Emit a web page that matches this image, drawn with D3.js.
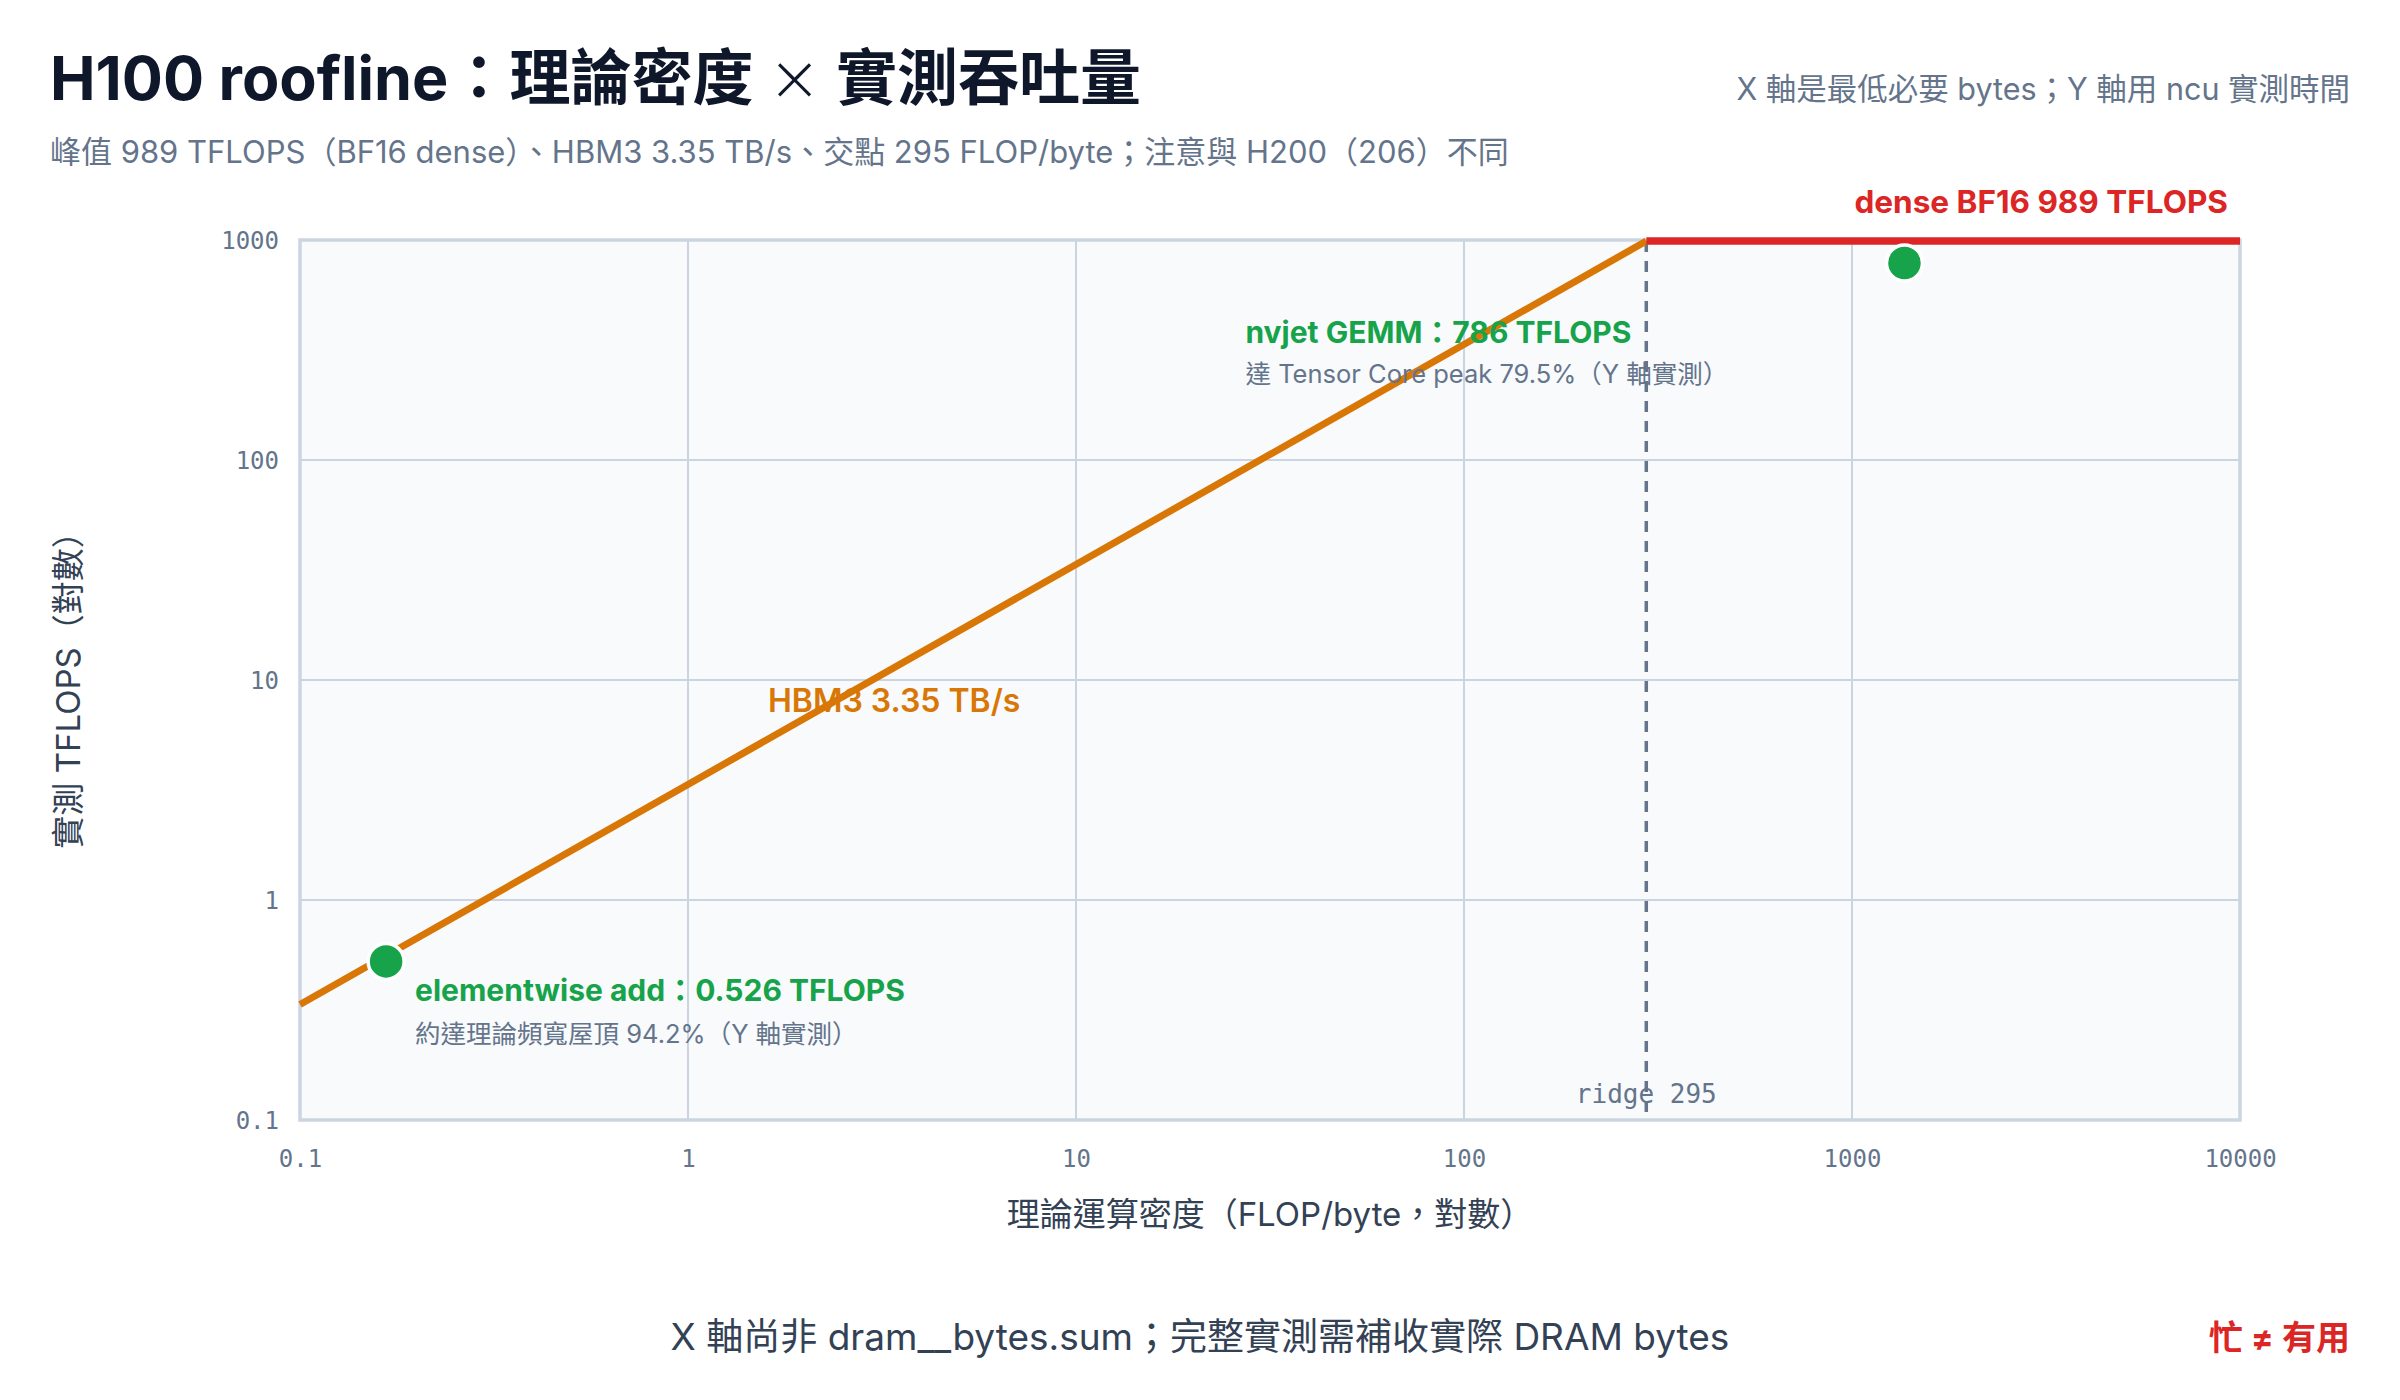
<!DOCTYPE html>
<html>
<head>
<meta charset="utf-8">
<script src="https://cdn.jsdelivr.net/npm/d3@7/dist/d3.min.js"></script>
<style>
  html, body { margin: 0; padding: 0; background: #ffffff; }
  svg { display: block; }
  .sans { font-family: Inter, "Noto Sans CJK TC", "Noto Sans", sans-serif; }
  .mono { font-family: "DejaVu Sans Mono", "Liberation Mono", monospace; }
</style>
</head>
<body>
<svg id="chart" width="2400" height="1400"></svg>
<script>
// ---- data ----
const xTickValues = [0.1, 1, 10, 100, 1000, 10000];
const yTickValues = [0.1, 1, 10, 100, 1000];
const xTickLabels = ["0.1", "1", "10", "100", "1000", "10000"];
const yTickLabels = ["0.1", "1", "10", "100", "1000"];
const peakTFLOPS = 989;
const bandwidthTBs = 3.35;
const ridgeIntensity = 295;
// roofline vertices (FLOP/byte, TFLOPS)
const roofBandwidthX = [0.1, 295.2];
const roofBandwidthY = [0.335, 989];
const roofComputeX = [295.2, 10000];
const roofComputeY = [989, 989];
// measured kernels
const kernelNames = ["elementwise add", "nvjet GEMM"];
const kernelIntensity = [0.1667, 1365.3];
const kernelTFLOPS = [0.526, 786];
const kernelLabels = ["elementwise add：0.526 TFLOPS", "nvjet GEMM：786 TFLOPS"];
const kernelNotes = ["約達理論頻寬屋頂 94.2%（Y 軸實測）", "達 Tensor Core peak 79.5%（Y 軸實測）"];

// ---- layout ----
const W = 2400, H = 1400;
const plot = { left: 300, right: 2240, top: 240, bottom: 1120 };
const svg = d3.select("#chart");

const x = d3.scaleLog().domain([0.1, 10000]).range([plot.left, plot.right]);
const y = d3.scaleLog().domain([0.1, 1000]).range([plot.bottom, plot.top]);

const C = {
  title: "#0f172a", text: "#334155", muted: "#64748b",
  grid: "#cbd5e1", bg: "#f8fafc",
  orange: "#d97706", red: "#dc2626", green: "#16a34a"
};

// plot background
svg.append("rect")
  .attr("x", plot.left).attr("y", plot.top)
  .attr("width", plot.right - plot.left).attr("height", plot.bottom - plot.top)
  .attr("fill", C.bg);

// grid
const g = svg.append("g");
g.selectAll(".vg").data(xTickValues).join("line")
  .attr("x1", d => x(d)).attr("x2", d => x(d))
  .attr("y1", plot.top).attr("y2", plot.bottom)
  .attr("stroke", C.grid).attr("stroke-width", 2);
g.selectAll(".hg").data(yTickValues).join("line")
  .attr("x1", plot.left).attr("x2", plot.right)
  .attr("y1", d => y(d)).attr("y2", d => y(d))
  .attr("stroke", C.grid).attr("stroke-width", 2);

// frame
svg.append("rect")
  .attr("x", plot.left).attr("y", plot.top)
  .attr("width", plot.right - plot.left).attr("height", plot.bottom - plot.top)
  .attr("fill", "none").attr("stroke", C.grid).attr("stroke-width", 3.5);

// axes (tick labels via d3 axes)
const xAxis = d3.axisBottom(x).tickValues(xTickValues)
  .tickFormat((d, i) => xTickLabels[i]).tickSize(0).tickPadding(0);
const xa = svg.append("g").attr("transform", `translate(0,${plot.bottom})`).call(xAxis);
xa.select(".domain").remove();
xa.selectAll("text").attr("class", "mono").attr("font-size", 24).attr("fill", C.muted)
  .attr("dy", null).attr("y", 47);

const yAxis = d3.axisLeft(y).tickValues(yTickValues)
  .tickFormat((d, i) => yTickLabels[i]).tickSize(0).tickPadding(0);
const ya = svg.append("g").attr("transform", `translate(${plot.left},0)`).call(yAxis);
ya.select(".domain").remove();
ya.selectAll("text").attr("class", "mono").attr("font-size", 24).attr("fill", C.muted)
  .attr("x", -21).attr("dy", "0.35em");

// ridge line
svg.append("line")
  .attr("x1", x(ridgeIntensity)).attr("x2", x(ridgeIntensity))
  .attr("y1", y(peakTFLOPS)).attr("y2", plot.bottom - 3)
  .attr("stroke", C.muted).attr("stroke-width", 3.5)
  .attr("stroke-dasharray", "11 9");
svg.append("text").attr("class", "mono")
  .attr("x", x(ridgeIntensity)).attr("y", plot.bottom - 17)
  .attr("text-anchor", "middle").attr("font-size", 26).attr("fill", C.muted)
  .text("ridge " + ridgeIntensity);

// roofline
const line = d3.line().x(d => x(d[0])).y(d => y(d[1]));
svg.append("path")
  .datum(roofBandwidthX.map((v, i) => [v, roofBandwidthY[i]]))
  .attr("d", line).attr("fill", "none")
  .attr("stroke", C.orange).attr("stroke-width", 7).attr("stroke-linecap", "butt");
svg.append("path")
  .datum(roofComputeX.map((v, i) => [v, roofComputeY[i]]))
  .attr("d", line).attr("fill", "none")
  .attr("stroke", C.red).attr("stroke-width", 7.5);

// roof labels
svg.append("text").attr("class", "sans")
  .attr("x", plot.right - 12).attr("y", plot.top - 27)
  .attr("text-anchor", "end").attr("font-size", 31.5).attr("font-weight", 700)
  .attr("fill", C.red).text(`dense BF16 ${peakTFLOPS} TFLOPS`);
svg.append("text").attr("class", "sans")
  .attr("x", x(1.607)).attr("y", y(7.16))
  .attr("font-size", 32).attr("font-weight", 600)
  .attr("fill", C.orange).text(`HBM3 ${bandwidthTBs.toFixed(2)} TB/s`);

// points
const pts = kernelNames.map((n, i) => ({ n, xi: kernelIntensity[i], yi: kernelTFLOPS[i], label: kernelLabels[i], note: kernelNotes[i] }));
svg.selectAll(".pt").data(pts).join("circle")
  .attr("cx", d => x(d.xi)).attr("cy", d => y(d.yi)).attr("r", 18)
  .attr("fill", C.green).attr("stroke", "#ffffff").attr("stroke-width", 3.5);

const labelOffsets = [[29, 40, 82], [-659, 80, 120]];
pts.forEach((d, i) => {
  const o = labelOffsets[i];
  svg.append("text").attr("class", "sans")
    .attr("x", x(d.xi) + o[0]).attr("y", y(d.yi) + o[1])
    .attr("font-size", 30).attr("font-weight", 700).attr("fill", C.green)
    .text(d.label);
  svg.append("text").attr("class", "sans")
    .attr("x", x(d.xi) + o[0]).attr("y", y(d.yi) + o[2])
    .attr("font-size", 25.5).attr("fill", C.muted)
    .text(d.note);
});

// axis titles
svg.append("text").attr("class", "sans")
  .attr("x", (plot.left + plot.right) / 2).attr("y", 1226)
  .attr("text-anchor", "middle").attr("font-size", 33).attr("fill", C.text)
  .text("理論運算密度（FLOP/byte，對數）");
svg.append("text").attr("class", "sans")
  .attr("transform", `translate(80,${(plot.top + plot.bottom) / 2 + 2}) rotate(-90)`)
  .attr("text-anchor", "middle").attr("font-size", 33).attr("fill", C.text)
  .text("實測 TFLOPS（對數）");

// titles
const t = svg.append("text").attr("class", "sans")
  .attr("x", 50).attr("y", 100).attr("font-size", 61).attr("font-weight", 700)
  .attr("fill", C.title);
t.append("tspan").text("H100 roofline：理論密度 ");
t.append("tspan").attr("font-weight", 300).attr("font-size", 64).attr("font-family", "'DejaVu Sans', sans-serif").text("×");
t.append("tspan").text(" 實測吞吐量");
svg.append("text").attr("class", "sans")
  .attr("x", 50).attr("y", 163).attr("font-size", 31).attr("fill", C.muted)
  .text("峰值 989 TFLOPS（BF16 dense）、HBM3 3.35 TB/s、交點 295 FLOP/byte；注意與 H200（206）不同");
svg.append("text").attr("class", "sans")
  .attr("x", 2350).attr("y", 100).attr("text-anchor", "end")
  .attr("font-size", 30.5).attr("fill", C.muted)
  .text("X 軸是最低必要 bytes；Y 軸用 ncu 實測時間");

// footer
svg.append("text").attr("class", "sans")
  .attr("x", 1200).attr("y", 1350).attr("text-anchor", "middle")
  .attr("font-size", 37).attr("fill", C.text)
  .text("X 軸尚非 dram__bytes.sum；完整實測需補收實際 DRAM bytes");
svg.append("text").attr("class", "sans")
  .attr("x", 2350).attr("y", 1350).attr("text-anchor", "end")
  .attr("font-size", 34).attr("font-weight", 700).attr("fill", C.red)
  .text("忙 ≠ 有用");
</script>
</body>
</html>
